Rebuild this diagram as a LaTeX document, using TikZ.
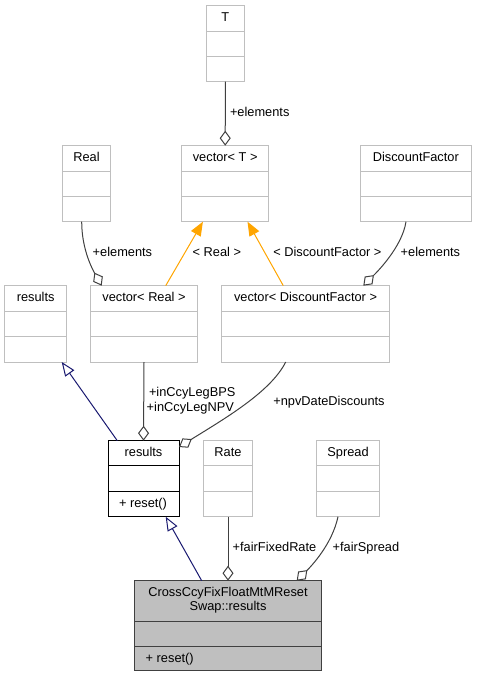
\documentclass[tikz,border=0pt]{standalone}
\usepackage{fontspec}
\setmainfont{Liberation Sans}
\usetikzlibrary{arrows.meta}

\definecolor{boxgray}{HTML}{BFBFBF}
\definecolor{edgegray}{HTML}{404040}
\definecolor{navyblue}{HTML}{191970}
\definecolor{tmplorange}{HTML}{FFA500}

\tikzset{
  cls/.style={draw=boxgray, line width=1pt, inner sep=0pt, outer sep=0pt},
  clsdoc/.style={draw=black, line width=1pt, inner sep=0pt, outer sep=0pt},
  clsmain/.style={draw=edgegray, fill=boxgray, line width=1pt, inner sep=0pt, outer sep=0pt},
  txt/.style={font=\fontsize{12.8}{14}\selectfont, inner sep=0pt, outer sep=0pt},
  agg/.style={draw=edgegray, line width=1pt, -{Diamond[open,length=15pt,width=11pt,fill=white]}},
  inh/.style={draw=navyblue, line width=1pt, -{Triangle[open,length=14pt,width=11pt,fill=white]}},
  tmpl/.style={draw=tmplorange, line width=1pt, -{Triangle[length=14pt,width=11pt]}},
}

% UML class box: name, style, left, top, right, divider 1, divider 2, bottom, title
\newcommand\umlclass[9]{%
  \node[#2, anchor=north west, minimum width={#5-#3}, minimum height={#8-#4}] (#1) at (#3,#4) {};
  \draw[#2, fill=none] (#3,#6) -- (#5,#6) (#3,#7) -- (#5,#7);
  \node[txt, anchor=base] (#1-name) at ({(#3+#5)/2},{#4+16}) {#9};
}

\begin{document}
\begin{tikzpicture}[x=1pt, y=-1pt]
\useasboundingbox (0,0) rectangle (477,677);

% classes
\umlclass{T}{cls}{206}{5.7}{244.7}{31.7}{56.7}{81.7}{T}
\umlclass{vecT}{cls}{181.7}{145.7}{268.7}{171.7}{196.7}{221.7}{vector< T >}
\umlclass{Real}{cls}{62.3}{145.7}{110.7}{171.7}{196.7}{221.7}{Real}
\umlclass{DF}{cls}{360.3}{145.7}{471.3}{171.7}{196.7}{221.7}{DiscountFactor}
\umlclass{resBase}{cls}{4.7}{285.7}{66.7}{311}{336.7}{362}{results}
\umlclass{vecReal}{cls}{90.3}{285.7}{197.7}{311}{336.7}{362}{vector< Real >}
\umlclass{vecDF}{cls}{221.3}{285.7}{389.7}{311}{336.7}{362}{vector< DiscountFactor >}
\umlclass{res}{clsdoc}{108}{440.7}{179}{465.3}{491.3}{516.7}{results}
\umlclass{Rate}{cls}{203.3}{440.7}{252.7}{465.3}{491}{516.7}{Rate}
\umlclass{Spread}{cls}{316.7}{440.7}{379.3}{465.3}{491}{516.7}{Spread}
\umlclass{cross}{clsmain}{134.7}{580.7}{321.3}{621}{646}{670.7}{CrossCcyFixFloatMtMReset}
\node[txt, anchor=base] (cross-name2) at (228,610.2) {Swap::results};

% operations
\node[txt, anchor=base west] (res-op) at (119,507.3) {+ reset()};
\node[txt, anchor=base west] (cross-op) at (145.7,662) {+ reset()};

% connectors
\draw[agg] (T.south) -- (vecT.north);
\draw[agg] ([xshift=-4.8pt]Real.south) .. controls +(0,28) and +(-9,-16) .. ([xshift=-42.3pt]vecReal.north);
\draw[tmpl] ([xshift=21.7pt]vecReal.north) -- ([xshift=-22.3pt]vecT.south);
\draw[tmpl] ([xshift=-22.2pt]vecDF.north) -- ([xshift=22.3pt]vecT.south);
\draw[agg] ([xshift=-9.8pt]DF.south) .. controls +(-4,26) and +(12,-12) .. ([xshift=57.8pt]vecDF.north);
\draw[inh] ([xshift=-26.2pt]res.north) -- ([xshift=26pt]resBase.south);
\draw[agg] (vecReal.south) -- (res.north);
\draw[agg] ([xshift=-19.8pt]vecDF.south) .. controls +(-15,30) and +(45,-28) .. ([yshift=-6.3pt]res.north east);
\draw[inh] ([xshift=-26.3pt]cross.north) -- ([xshift=22.2pt]res.south);
\draw[agg] (Rate.south) -- (cross.north);
\draw[agg] ([xshift=-10pt]Spread.south) .. controls +(-6,28) and +(14,-14) .. ([xshift=68.7pt]cross.north);

% connector labels
\node[txt, anchor=base west] (lblTel) at (230,116.7) {+elements};
\node[txt, anchor=base west] (lblReal) at (92.7,256.7) {+elements};
\node[txt, anchor=base west] (lblTR) at (192.7,256.7) {< Real >};
\node[txt, anchor=base west] (lblTDF) at (273.3,256.7) {< DiscountFactor >};
\node[txt, anchor=base west] (lblDF) at (400.7,256.7) {+elements};
\node[txt, anchor=base west] (lblBPS) at (149,396.7) {+inCcyLegBPS};
\node[txt, anchor=base west] (lblNPV) at (146.7,411) {+inCcyLegNPV};
\node[txt, anchor=base west] (lblDisc) at (273.3,405) {+npvDateDiscounts};
\node[txt, anchor=base west] (lblRate) at (232.7,551.7) {+fairFixedRate};
\node[txt, anchor=base west] (lblSpread) at (332.7,551.7) {+fairSpread};
\end{tikzpicture}
\end{document}
